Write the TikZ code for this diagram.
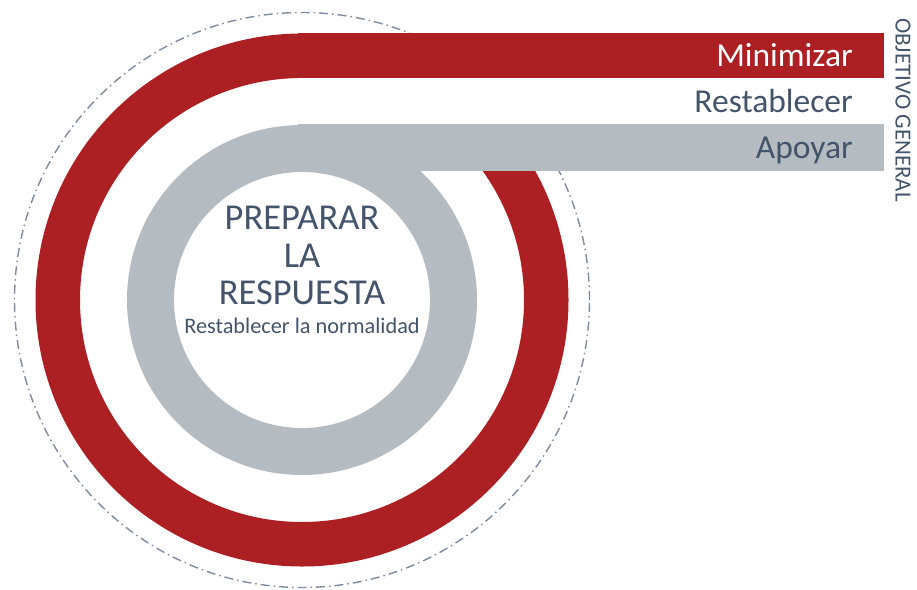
\documentclass[tikz,border=0pt]{standalone}
\usepackage{fontspec}
\setmainfont{Carlito}
\usetikzlibrary{positioning}
\definecolor{bandred}{HTML}{AC2024}
\definecolor{bandgray}{HTML}{B4BCC2}
\definecolor{labelblue}{HTML}{44546A}
\definecolor{guidegray}{HTML}{7F8BA0}

\begin{document}
\begin{tikzpicture}[%
    x=1pt,
    y=-1pt,
    bandlabel/.style={%
      anchor=base east,
      inner sep=0pt,
      font=\fontsize{33.5}{40}\selectfont
    },
    coretitle/.style={%
      anchor=base,
      inner sep=0pt,
      text=labelblue,
      font=\fontsize{36.5}{44}\selectfont
    },
    guide/.style={%
      guidegray,
      line width=1.4pt,
      dash pattern=on 9pt off 4pt on 1.5pt off 4pt
    }
  ]
    \useasboundingbox (0,0) rectangle (917,589);
    \coordinate (C) at (302,300);

    \draw[guide] (C) circle[radius=287.5pt];
    \fill[bandred, even odd rule] (C) circle[radius=266.5pt] (C) circle[radius=222pt];
    \fill[bandred] (298,33) rectangle (884,78);
    \fill[white] (298,78) rectangle (884,124);
    \fill[bandgray, even odd rule] (C) circle[radius=175pt] (C) circle[radius=128pt];
    \fill[bandgray] (298,124) rectangle (884,171);

    \node[bandlabel, text=white] (minimizar) at (853,66) {Minimizar};
    \node[bandlabel, text=labelblue] (restablecer) at (853,112) {Restablecer};
    \node[bandlabel, text=labelblue] (apoyar) at (853,158) {Apoyar};
    \node[rotate=-90, inner sep=0pt, text=labelblue,
          font=\fontsize{23}{27}\selectfont] (objetivo) at (903,110) {OBJETIVO GENERAL};

    \node[coretitle] (preparar) at (302,229) {PREPARAR};
    \node[coretitle] (la) at (302,267) {LA};
    \node[coretitle] (respuesta) at (302,304) {RESPUESTA};
    \node[anchor=base, inner sep=0pt, text=labelblue,
          font=\fontsize{22.3}{27}\selectfont] (normalidad) at (302,333) {Restablecer la normalidad};
\end{tikzpicture}
\end{document}
